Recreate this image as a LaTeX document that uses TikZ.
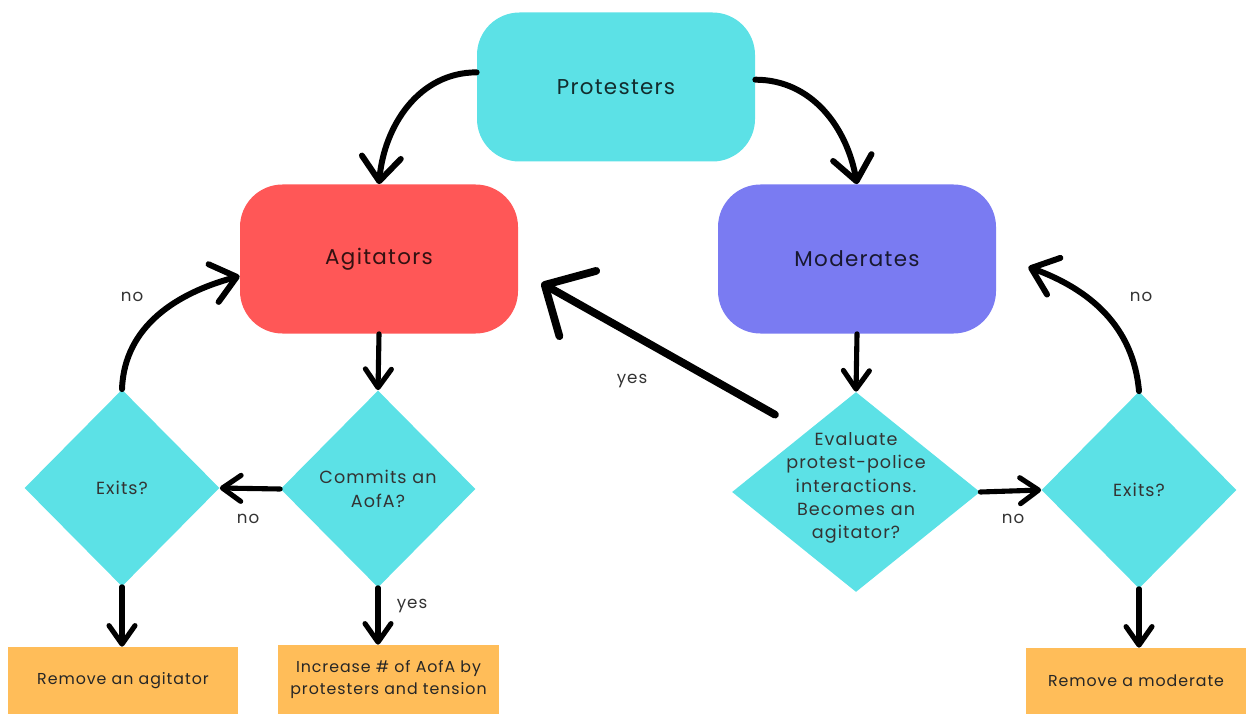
\documentclass[tikz,border=0pt]{standalone}
\usepackage{fontspec}
\setmainfont{Poppins}[LetterSpace=6]
\usetikzlibrary{calc,arrows.meta,shapes.geometric}
\definecolor{aqua}{HTML}{5CE1E6}
\definecolor{coral}{HTML}{FF5757}
\definecolor{lilac}{HTML}{7A7BF2}
\definecolor{amber}{HTML}{FFBD59}
\tikzset{
  group/.style={rectangle, rounded corners=0.85cm, minimum width=5.56cm, minimum height=2.98cm, text=black, text opacity=0.8, font=\fontsize{12.2}{14}\selectfont},
  decide/.style={diamond, fill=aqua, minimum width=3.9cm, minimum height=3.94cm, inner sep=0pt},
  dtext/.style={align=center, text=black!80, font=\fontsize{10}{13.3}\selectfont},
  outcome/.style={rectangle, fill=amber, text=black!85, align=center, font=\fontsize{9}{13}\selectfont},
  lbl/.style={text=black!80, font=\fontsize{9.5}{12}\selectfont},
  arr/.style={line width=2.9pt, line cap=round, -{Straight Barb[length=0.37cm,width=0.52cm,round]}},
  curvearr/.style={line width=3.4pt, line cap=round, -{Straight Barb[length=0.48cm,width=0.78cm,round]}},
}
\begin{document}
\begin{tikzpicture}
%%%%% START %%%%%
\useasboundingbox (0,0) rectangle (24.92,14.28);

\node[group, fill=aqua] (prot) at (12.32, 12.54) {Protesters};
\node[group, fill=coral] (agit) at (7.58, 9.10) {Agitators};
\node[group, fill=lilac] (mod) at (17.14, 9.10) {Moderates};

\node[decide] (exl) at (2.44, 4.52) {};
\node[decide] (com) at (7.56, 4.50) {};
\node[decide, minimum width=4.96cm, minimum height=4cm] (eval) at (17.12, 4.44) {};
\node[decide] (exr) at (22.78, 4.48) {};

\node[dtext] (exltxt) at (exl) {Exits?};
\node[dtext] (comtxt) at (com) {Commits an\\AofA?};
\node[dtext] (evaltxt) at (17.12, 4.52) {Evaluate\\protest-police\\interactions.\\Becomes an\\agitator?};
\node[dtext] (exrtxt) at (exr) {Exits?};

\node[outcome, minimum width=4.6cm, minimum height=1.34cm] (remag) at (2.46, 0.67) {Remove an agitator};
\node[outcome, minimum width=4.42cm, minimum height=1.38cm] (incr) at (7.77, 0.69) {Increase \# of AofA by\\protesters and tension};
\node[outcome, minimum width=4.4cm, minimum height=1.32cm] (remmod) at (22.72, 0.66) {Remove a moderate};

\coordinate (modin) at ($(mod.east)+(0.64,-0.16)$);
\coordinate (yesfrom) at ($(eval.north)+(-1.62,-0.46)$);
\coordinate (yesto) at ($(agit.east)+(0.46,-0.48)$);

% protesters split
\draw[curvearr] (prot.174) to[out=180, in=85] (agit.north);
\draw[curvearr] (prot.3) to[out=0, in=100] (mod.north);

% agitator branch
\draw[arr] (agit.south) -- (com.north);
\draw[arr] (com.west) -- (exl.east);
\draw[arr] (exl.south) -- (exl.south |- remag.north);
\draw[arr] (com.south) -- (com.south |- incr.north);
\draw[curvearr] (exl.north) to[out=88, in=195] (agit.187);

% moderate branch
\draw[arr] (mod.south) -- (eval.north);
\draw[arr] (eval.east) -- (exr.west);
\draw[arr] (exr.south) -- (exr.south |- remmod.north);
\draw[curvearr] (exr.north) to[out=95, in=-20] (modin);
\draw[line width=4.4pt, line cap=round, -{Straight Barb[length=0.76cm,width=1.5cm,round]}] (yesfrom) -- (yesto);

\node[lbl] (no1) at (2.64, 8.34) {no};
\node[lbl] (no2) at (4.96, 3.90) {no};
\node[lbl] (yes1) at (8.24, 2.16) {yes};
\node[lbl] (yes2) at (12.64, 6.66) {yes};
\node[lbl] (no3) at (20.26, 3.90) {no};
\node[lbl] (no4) at (22.82, 8.34) {no};
%%%%% END %%%%%
\end{tikzpicture}
\end{document}
